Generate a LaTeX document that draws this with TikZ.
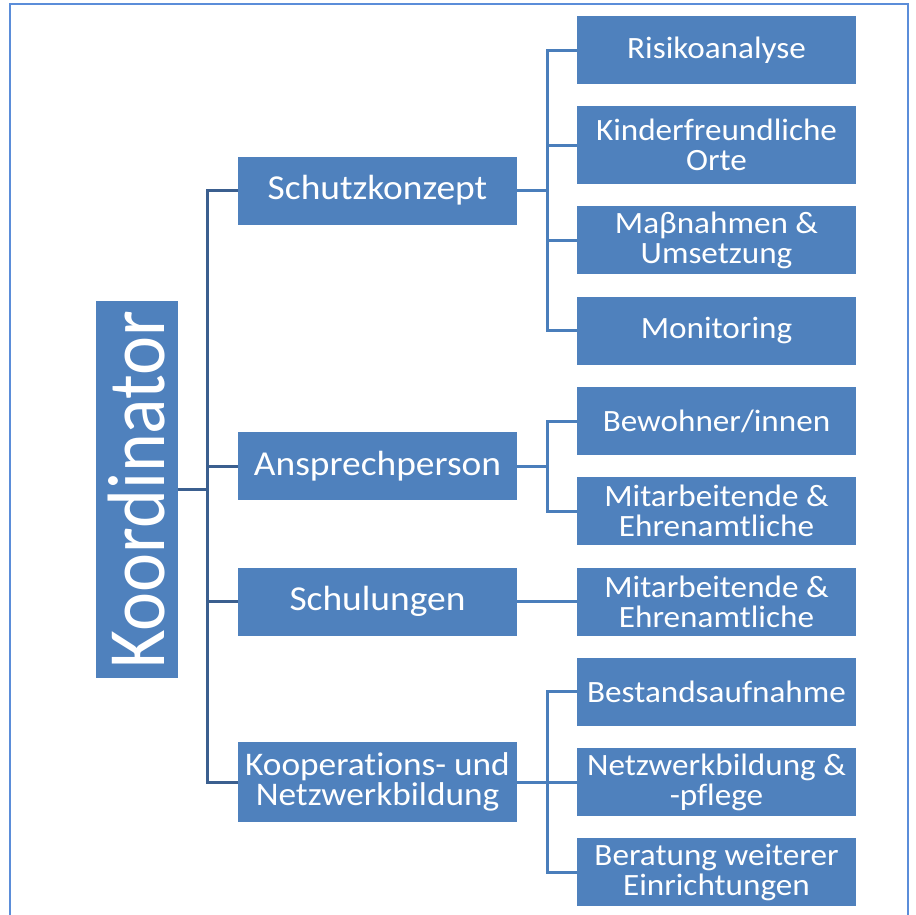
\documentclass[tikz,border=0pt]{standalone}
\usepackage{graphicx}
\usepackage{fontspec}
\setmainfont{Carlito}[FakeStretch=1.07, Ligatures=NoCommon]
\newfontfamily\koordfont{Carlito}[Ligatures=NoCommon]
\usepackage{tikz}
\usetikzlibrary{positioning, calc}
\definecolor{Box_Blue}{HTML}{4F81BD}
\definecolor{Line_Dark}{HTML}{3B5F8F}
\definecolor{Line_Blue}{HTML}{4A7EBB}
\definecolor{Frame_Blue}{HTML}{5B8DD9}

\begin{document}
\begin{tikzpicture}[
  x=1pt, y=-1pt,
  every node/.style={font=\fontsize{31}{30}\selectfont, text=white},
  block/.style={fill=Box_Blue, minimum width=279pt, minimum height=68pt,
    inner sep=0pt, align=center},
  mainblock/.style={block, font=\fontsize{35}{30}\selectfont},
  link/.style={Line_Dark, line width=3pt},
  sublink/.style={Line_Blue, line width=3pt}
]
  \useasboundingbox (0,0) rectangle (915,915);

  % Frame
  \draw[Frame_Blue, line width=1.5pt] (10,4) rectangle (908,940);

  % Root
  \node[block, minimum width=82pt, minimum height=377pt] (koord) at (137,489.5)
    {\rotatebox{90}{\scalebox{1}[1.1]{\koordfont\fontsize{74}{74}\selectfont Koordinator}}};

  % Second level
  \node[mainblock] (schutz) at (377.5,190.5) {Schutzkonzept};
  \node[mainblock] (ansp) at (377.5,466) {Ansprechperson};
  \node[mainblock] (schul) at (377.5,601.5) {Schulungen};
  \node[mainblock, minimum height=80pt, font=\fontsize{33}{30}\selectfont] (koop) at (377.5,782)
    {Kooperations- und\\Netzwerkbildung};

  % Third level
  \node[block] (risk) at (716.5,50.5) {Risikoanalyse};
  \node[block, minimum height=78pt] (orte) at (716.5,145) {Kinderfreundliche\\Orte};
  \node[block] (mass) at (716.5,240) {Maβnahmen \&\\Umsetzung};
  \node[block] (moni) at (716.5,330.5) {Monitoring};
  \node[block] (bewo) at (716.5,421) {Bewohner/innen};
  \node[block] (mit1) at (716.5,511) {Mitarbeitende \&\\Ehrenamtliche};
  \node[block] (mit2) at (716.5,602) {Mitarbeitende \&\\Ehrenamtliche};
  \node[block] (best) at (716.5,691.5) {Bestandsaufnahme};
  \node[block] (netz) at (716.5,782) {Netzwerkbildung \&\\-pflege};
  \node[block] (bera) at (716.5,872) {Beratung weiterer\\Einrichtungen};

  % Bus lines
  \coordinate (lbus) at (207,0);
  \coordinate (rbus) at (547,0);

  % Root to second level
  \draw[link] (koord.east) -- (koord.east -| lbus);
  \draw[link] (schutz.west) -- (schutz.west -| lbus) -- (koop.west -| lbus) -- (koop.west);
  \draw[link] (ansp.west) -- (ansp.west -| lbus);
  \draw[link] (schul.west) -- (schul.west -| lbus);

  % Schutzkonzept
  \draw[sublink] (schutz.east) -- (schutz.east -| rbus);
  \draw[sublink] (risk.west) -- (risk.west -| rbus) -- (moni.west -| rbus) -- (moni.west);
  \draw[sublink] (orte.west) -- (orte.west -| rbus);
  \draw[sublink] (mass.west) -- (mass.west -| rbus);

  % Ansprechperson
  \draw[sublink] (ansp.east) -- (ansp.east -| rbus);
  \draw[sublink] (bewo.west) -- (bewo.west -| rbus) -- (mit1.west -| rbus) -- (mit1.west);

  % Schulungen
  \draw[sublink] (schul.east) -- (schul.east -| mit2.west);

  % Kooperation
  \draw[sublink] (koop.east) -- (koop.east -| rbus);
  \draw[sublink] (best.west) -- (best.west -| rbus) -- (bera.west -| rbus) -- (bera.west);
  \draw[sublink] (netz.west) -- (netz.west -| rbus);
\end{tikzpicture}
\end{document}
